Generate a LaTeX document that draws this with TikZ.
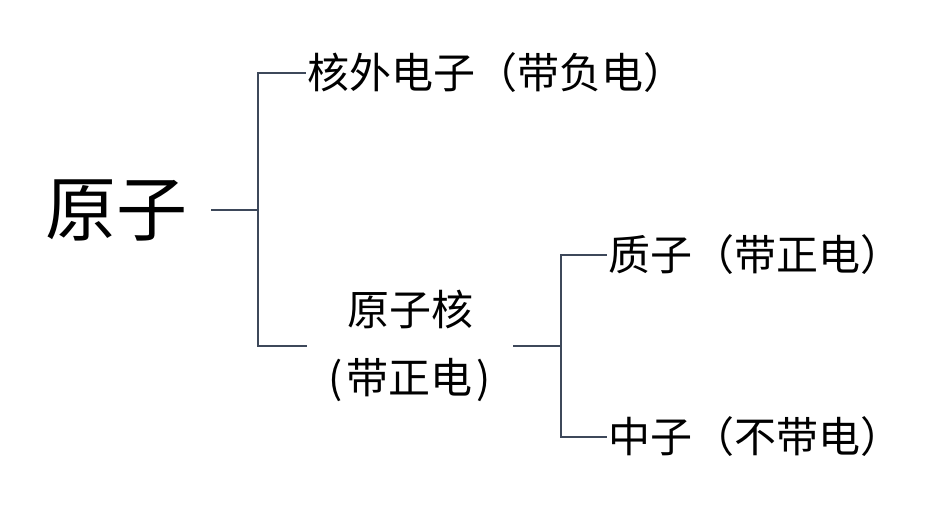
\documentclass[tikz,border=0pt]{standalone}
\usepackage{fontspec}
\newfontfamily\cjk{Noto Sans CJK SC}
\usetikzlibrary{positioning}
\definecolor{branchgray}{RGB}{61,72,90}

\begin{document}
\begin{tikzpicture}[
        x=1pt, y=-1pt,
        part/.style={inner xsep=1.5pt, inner ysep=0pt, font=\cjk\fontsize{42pt}{68pt}\selectfont},
        branch/.style={draw=branchgray, line width=2pt}
    ]
        \useasboundingbox (0,0) rectangle (927,508);

        % left side
        \node[part, anchor=east, inner xsep=23pt, font=\cjk\fontsize{71pt}{71pt}\selectfont] (atom) at (211,210) {原子};
        \node[part, anchor=west] (electron) at (306,73) {核外电子（带负电）};
        \node[part, anchor=center, text width=166pt, align=center, inner xsep=20pt] (nucleus) at (410,346) {原子核\\(\hspace{4pt}带正电\hspace{4pt})};

        % right side
        \node[part, anchor=west] (proton) at (607,255) {质子（带正电）};
        \node[part, anchor=west] (neutron) at (607,437) {中子（不带电）};

        \draw[branch] (atom.east) -- ++(47,0) coordinate (fork1) |- (electron.west);
        \draw[branch] (fork1) |- (nucleus.west);
        \draw[branch] (nucleus.east) -- ++(48,0) coordinate (fork2) |- (proton.west);
        \draw[branch] (fork2) |- (neutron.west);
    \end{tikzpicture}
\end{document}
